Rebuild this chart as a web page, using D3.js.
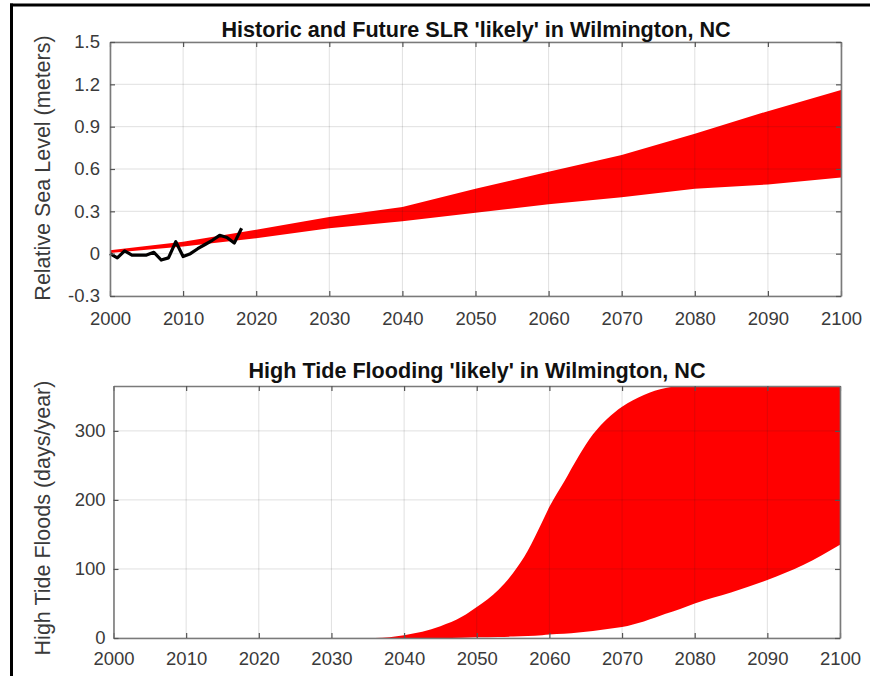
<!DOCTYPE html>
<html>
<head>
<meta charset="utf-8">
<script src="https://cdn.jsdelivr.net/npm/d3@7"></script>
<style>
  html, body { margin: 0; padding: 0; background: #fff; }
  svg { display: block; font-family: "Liberation Sans", Arial, Helvetica, sans-serif; }
</style>
</head>
<body>
<svg id="chart" width="870" height="676"></svg>
<script>
// ---------- DATA ----------
const slrYears  = [2000, 2010, 2020, 2030, 2040, 2050, 2060, 2070, 2080, 2090, 2100];
const slrLower  = [0.005, 0.05, 0.11, 0.18, 0.23, 0.29, 0.35, 0.40, 0.46, 0.49, 0.54];
const slrUpper  = [0.025, 0.085, 0.17, 0.26, 0.33, 0.46, 0.58, 0.70, 0.85, 1.01, 1.16];

const histYears = [2000, 2001, 2002, 2003, 2004, 2005, 2006, 2007, 2008, 2009,
                   2010, 2011, 2012, 2013, 2014, 2015, 2016, 2017, 2018];
const histLevel = [0.0, -0.03, 0.02, -0.01, -0.01, -0.01, 0.01, -0.045, -0.03, 0.085,
                   -0.02, 0.0, 0.035, 0.065, 0.095, 0.13, 0.115, 0.075, 0.18];

const floodYears = [2000, 2036, 2040, 2045, 2048, 2050, 2053, 2055, 2057, 2059, 2060, 2062,
                    2064, 2066, 2068, 2070, 2073, 2076, 2078, 2080, 2085, 2090, 2095, 2100];
const floodLower = [0, 0, 0, 0, 0.5, 1, 1.5, 2, 3, 4, 5, 6,
                    8, 10, 13, 16, 24, 35, 42, 50, 66, 84, 106, 135];
const floodUpper = [0, 0, 4, 17, 31, 45, 70, 94, 126, 168, 190, 226,
                    263, 295, 318, 335, 352, 362, 365, 365, 365, 365, 365, 365];

const xTicks      = [2000, 2010, 2020, 2030, 2040, 2050, 2060, 2070, 2080, 2090, 2100];
const slrTicks    = [-0.3, 0, 0.3, 0.6, 0.9, 1.2, 1.5];
const slrTickText = ["-0.3", "0", "0.3", "0.6", "0.9", "1.2", "1.5"];
const floodTicks  = [0, 100, 200, 300];

const title1 = "Historic and Future SLR 'likely' in Wilmington, NC";
const title2 = "High Tide Flooding 'likely' in Wilmington, NC";
const ylab1  = "Relative Sea Level (meters)";
const ylab2  = "High Tide Floods (days/year)";

// ---------- DRAW ----------
const svg = d3.select("#chart");
const AXIS = "#7a7a7a", TXT = "#3a3a3a", RED = "#ff0000";
const TICK_FS = 18.5, TITLE_FS = 21.6, YLAB_FS = 21.5;

// outer frame (left & top visible)
svg.append("line").attr("x1", 11.5).attr("x2", 11.5).attr("y1", 3.5).attr("y2", 676)
  .attr("stroke", "#000").attr("stroke-width", 3);
svg.append("line").attr("x1", 10).attr("x2", 870).attr("y1", 5).attr("y2", 5)
  .attr("stroke", "#000").attr("stroke-width", 3);

function panel(opt) {
  const g = svg.append("g");
  const x = opt.x, y = opt.y;
  const [x0, x1] = x.range(), [y0, y1] = y.range(); // y0 bottom, y1 top

  // data layer
  opt.drawData(g, x, y);

  // grid on top (MATLAB style, translucent)
  const grid = g.append("g").attr("stroke", "#262626").attr("stroke-opacity", 0.14).attr("stroke-width", 1);
  xTicks.forEach(t => grid.append("line").attr("x1", x(t)).attr("x2", x(t)).attr("y1", y0).attr("y2", y1));
  opt.yTicks.forEach(t => grid.append("line").attr("x1", x0).attr("x2", x1).attr("y1", y(t)).attr("y2", y(t)));

  // axes (ticks inside)
  const bottom = g.append("g").attr("transform", `translate(0,${y0})`)
    .call(d3.axisBottom(x).tickValues(xTicks).tickSizeInner(-5).tickSizeOuter(0).tickPadding(opt.xPad).tickFormat(d => String(d)));
  const top = g.append("g").attr("transform", `translate(0,${y1})`)
    .call(d3.axisTop(x).tickValues(xTicks).tickSizeInner(-5).tickSizeOuter(0).tickFormat(""));
  const left = g.append("g").attr("transform", `translate(${x0},0)`)
    .call(d3.axisLeft(y).tickValues(opt.yTicks).tickSizeInner(-5).tickSizeOuter(0).tickPadding(opt.yPad).tickFormat(opt.yFmt));
  const right = g.append("g").attr("transform", `translate(${x1},0)`)
    .call(d3.axisRight(y).tickValues(opt.yTicks).tickSizeInner(-5).tickSizeOuter(0).tickFormat(""));
  [bottom, top, left, right].forEach(a => {
    a.select(".domain").attr("stroke", AXIS).attr("stroke-width", 1.6);
    a.selectAll(".tick line").attr("stroke", "#555").attr("stroke-width", 1.2);
    a.selectAll("text").attr("fill", TXT).attr("font-size", TICK_FS).attr("font-family", '"Liberation Sans", Arial, sans-serif');
  });

  // title
  g.append("text").attr("x", opt.titleX).attr("y", opt.titleY).attr("text-anchor", "middle")
    .attr("font-size", TITLE_FS).attr("font-weight", "bold").attr("fill", "#111").text(opt.title);
  // y label
  g.append("text").attr("transform", `translate(${opt.ylabX},${opt.ylabY}) rotate(-90)`)
    .attr("text-anchor", "middle").attr("font-size", YLAB_FS).attr("fill", TXT).text(opt.ylab);
}

// Top panel
panel({
  x: d3.scaleLinear().domain([2000, 2100]).range([110, 841]),
  y: d3.scaleLinear().domain([-0.3, 1.5]).range([296, 42]),
  yTicks: slrTicks, yPad: 10, xPad: 16,
  yFmt: d => slrTickText[slrTicks.indexOf(d)],
  title: title1, titleX: 476, titleY: 37,
  ylab: ylab1, ylabX: 50, ylabY: 168,
  drawData: (g, x, y) => {
    const band = slrYears.map((yr, i) => ({ yr, lo: slrLower[i], hi: slrUpper[i] }));
    g.append("path").datum(band).attr("fill", RED)
      .attr("d", d3.area().x(d => x(d.yr)).y0(d => y(d.lo)).y1(d => y(d.hi)));
    const hist = histYears.map((yr, i) => ({ yr, v: histLevel[i] }));
    g.append("path").datum(hist).attr("fill", "none").attr("stroke", "#000").attr("stroke-width", 3.2)
      .attr("stroke-linejoin", "round")
      .attr("d", d3.line().x(d => x(d.yr)).y(d => y(d.v)));
  }
});

// Bottom panel
panel({
  x: d3.scaleLinear().domain([2000, 2100]).range([113.5, 840]),
  y: d3.scaleLinear().domain([0, 365]).range([638, 386]),
  yTicks: floodTicks, yPad: 8, xPad: 14,
  yFmt: d => String(d),
  title: title2, titleX: 477, titleY: 378,
  ylab: ylab2, ylabX: 50, ylabY: 518,
  drawData: (g, x, y) => {
    const band = floodYears.map((yr, i) => ({ yr, lo: floodLower[i], hi: floodUpper[i] }));
    g.append("path").datum(band).attr("fill", RED)
      .attr("d", d3.area().curve(d3.curveMonotoneX).x(d => x(d.yr)).y0(d => y(d.lo)).y1(d => y(d.hi)));
  }
});
</script>
</body>
</html>
